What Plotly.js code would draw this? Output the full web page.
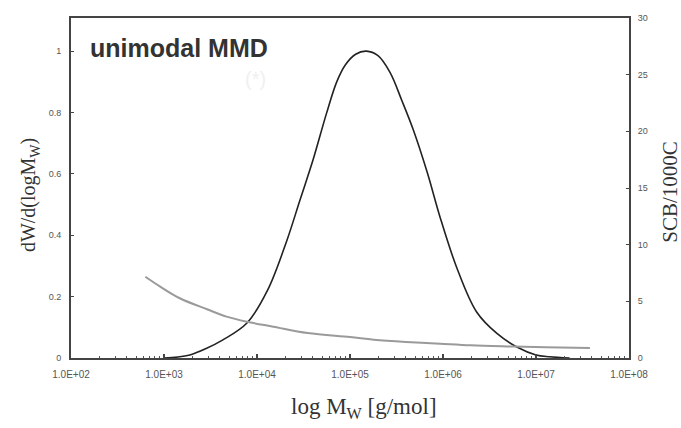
<!DOCTYPE html>
<html>
<head>
<meta charset="utf-8">
<script src="https://cdn.plot.ly/plotly-3.0.1.min.js"></script>
<style>html,body{margin:0;padding:0;background:#fff;}#chart{width:681px;height:428px;}</style>
</head>
<body>
<div id="chart"></div>
<script>
// Molar mass distribution (left axis)
const mmdMw = [1.0e3, 1.4e3, 1.9e3, 2.8e3, 4.3e3, 7.8e3, 1.3e4, 2.1e4, 2.9e4, 4.0e4, 5.6e4, 7.2e4, 8.9e4, 1.15e5, 1.5e5, 2.0e5, 2.7e5, 3.6e5, 4.8e5, 6.8e5, 9.3e5, 1.4e6, 2.3e6, 3.8e6, 6.3e6, 1.0e7, 1.4e7, 2.3e7];
const mmdVal = [0.0, 0.003, 0.01, 0.03, 0.059, 0.114, 0.221, 0.384, 0.515, 0.645, 0.798, 0.9, 0.955, 0.99, 1.0, 0.985, 0.93, 0.84, 0.743, 0.603, 0.459, 0.296, 0.15, 0.08, 0.035, 0.01, 0.004, 0.0];
// Short chain branching (right axis)
const scbMw = [6.3e2, 9.1e2, 1.48e3, 2.9e3, 4.7e3, 7.8e3, 1.5e4, 3.5e4, 1.0e5, 1.8e5, 4.0e5, 9.3e5, 2.0e6, 4.9e6, 1.26e7, 3.8e7];
const scbVal = [7.17, 6.3, 5.27, 4.3, 3.65, 3.2, 2.76, 2.2, 1.85, 1.62, 1.42, 1.26, 1.12, 1.02, 0.94, 0.88];
// Tick labels
const xTickVals = [1e2, 1e3, 1e4, 1e5, 1e6, 1e7, 1e8];
const xTickText = ["1.0E+02", "1.0E+03", "1.0E+04", "1.0E+05", "1.0E+06", "1.0E+07", "1.0E+08"];
const yTickVals = [0, 0.2, 0.4, 0.6, 0.8, 1];
const yTickText = ["0", "0.2", "0.4", "0.6", "0.8", "1"];
const y2TickVals = [0, 5, 10, 15, 20, 25, 30];
const y2TickText = ["0", "5", "10", "15", "20", "25", "30"];

const minorVals = [];
xTickVals.slice(0, -1).forEach(d => { for (let k = 2; k <= 9; k++) minorVals.push(d * k); });

const traces = [
  {x: mmdMw, y: mmdVal, type: 'scatter', mode: 'lines', line: {color: '#222', width: 1.6, shape: 'spline', smoothing: 1}, yaxis: 'y', hoverinfo: 'skip'},
  {x: scbMw, y: scbVal, type: 'scatter', mode: 'lines', line: {color: '#9a9a9a', width: 2, shape: 'spline', smoothing: 1}, yaxis: 'y2', hoverinfo: 'skip'}
];

const tickFont = {family: 'Liberation Sans, Arial, sans-serif', size: 9, color: '#555'};
const serif = 'Liberation Serif, Times New Roman, serif';

const layout = {
  width: 681, height: 428,
  margin: {l: 71, r: 52, t: 18, b: 70},
  paper_bgcolor: '#fff', plot_bgcolor: '#fff',
  showlegend: false,
  xaxis: {
    type: 'log', range: [2, 8],
    tickmode: 'array', tickvals: xTickVals, ticktext: xTickText,
    ticks: 'inside', ticklen: 4, tickcolor: '#444', tickwidth: 1.5,
    minor: {tickmode: 'array', tickvals: minorVals, ticks: 'inside', ticklen: 2.5, tickcolor: '#555', tickwidth: 1, showgrid: false},
    showgrid: false, zeroline: false,
    showline: true, linecolor: '#444', linewidth: 2, mirror: true,
    ticklabelstandoff: 6,
    tickfont: {family: 'Liberation Sans, Arial, sans-serif', size: 10, color: '#555'}
  },
  yaxis: {
    range: [0, 1.108],
    tickmode: 'array', tickvals: yTickVals, ticktext: yTickText,
    ticks: 'inside', ticklen: 3, tickcolor: '#444',
    showgrid: false, zeroline: false,
    showline: true, linecolor: '#444', linewidth: 2,
    ticklabelstandoff: 6,
    tickfont: tickFont
  },
  yaxis2: {
    overlaying: 'y', side: 'right', range: [0, 30],
    tickmode: 'array', tickvals: y2TickVals, ticktext: y2TickText,
    ticks: 'inside', ticklen: 3, tickcolor: '#444',
    showgrid: false, zeroline: false,
    showline: true, linecolor: '#444', linewidth: 2,
    ticklabelstandoff: 5,
    tickfont: tickFont
  },
  annotations: [
    {text: '<b>unimodal MMD</b>', xref: 'paper', yref: 'paper', x: 0.03, y: 0.912, xanchor: 'left', yanchor: 'middle', showarrow: false,
     font: {family: 'Liberation Sans, Arial, sans-serif', size: 25, color: '#333'}},
    {text: '(*)', xref: 'paper', yref: 'paper', x: 0.33, y: 0.82, xanchor: 'center', yanchor: 'middle', showarrow: false,
     font: {family: 'Liberation Sans, Arial, sans-serif', size: 20, color: '#f0f0f0'}},
    {text: 'dW/d(logM<sub>W</sub>)', xref: 'paper', yref: 'paper', x: -0.073, y: 0.48, xanchor: 'center', yanchor: 'middle', textangle: -90, showarrow: false,
     font: {family: serif, size: 20, color: '#333'}},
    {text: 'SCB/1000C', xref: 'paper', yref: 'paper', x: 1.074, y: 0.49, xanchor: 'center', yanchor: 'middle', textangle: -90, showarrow: false,
     font: {family: serif, size: 21, color: '#333'}},
    {text: 'log M<sub>W</sub> [g/mol]', xref: 'paper', yref: 'paper', x: 0.525, y: -0.148, xanchor: 'center', yanchor: 'middle', showarrow: false,
     font: {family: serif, size: 23, color: '#333'}}
  ]
};

Plotly.newPlot('chart', traces, layout, {displayModeBar: false, staticPlot: true});
</script>
</body>
</html>
